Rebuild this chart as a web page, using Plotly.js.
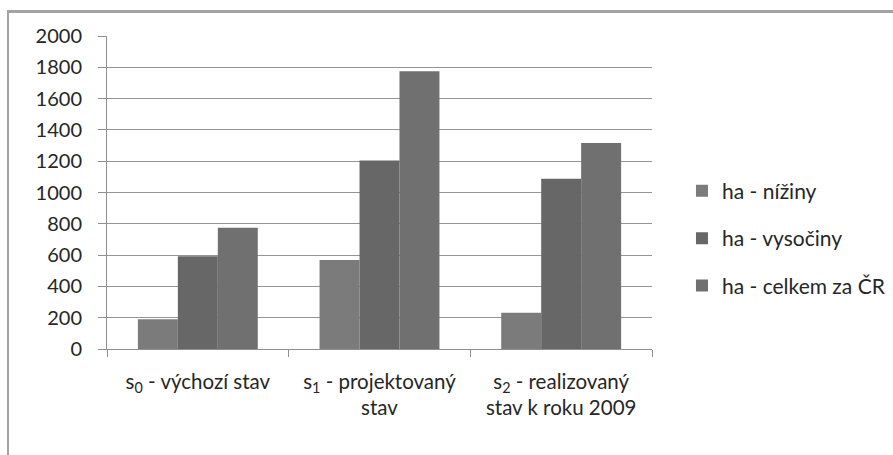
<!DOCTYPE html>
<html>
<head>
<meta charset="utf-8">
<script src="https://cdn.plot.ly/plotly-3.0.1.min.js"></script>
<style>
  html, body { margin: 0; padding: 0; background: #ffffff; overflow: hidden; }
  #wrap { position: relative; width: 893px; height: 455px; }
  #chart { position: absolute; left: 0; top: 0; width: 893px; height: 455px; }
  #frame {
    position: absolute; left: 7px; top: 10px; width: 920px; height: 480px;
    border-left: 2px solid #a3a3a3; border-top: 3px solid #a3a3a3;
    pointer-events: none;
  }
</style>
</head>
<body>
<div id="wrap">
  <div id="chart"></div>
  <div id="frame"></div>
</div>
<script>
// Categories (states) and areas in hectares
const categories = [
  "s<sub>0</sub> - výchozí stav",
  "s<sub>1</sub> - projektovaný<br>stav",
  "s<sub>2</sub> - realizovaný<br>stav k roku 2009"
];
const seriesNames = ["ha - nížiny", "ha - vysočiny", "ha - celkem za ČR"];
const nizinyValues = [190, 568, 232];
const vysocinyValues = [592, 1204, 1088];
const celkemValues = [774, 1774, 1316];
const yTickValues = [0, 200, 400, 600, 800, 1000, 1200, 1400, 1600, 1800, 2000];

const seriesColors = ["#7b7b7b", "#676767", "#707070"];
const FONT = "Lato, 'Open Sans', sans-serif";
const TEXT = "#262626";

const allValues = [nizinyValues, vysocinyValues, celkemValues];
const traces = allValues.map((vals, i) => ({
  type: "bar",
  name: seriesNames[i],
  x: categories,
  y: vals,
  legendgroup: "g" + i,
  marker: { color: seriesColors[i], line: { width: 0 } },
  hoverinfo: "x+y+name"
}));

const layout = {
  width: 893,
  height: 455,
  margin: { l: 107, r: 241, t: 36, b: 106, autoexpand: false },
  paper_bgcolor: "#ffffff",
  plot_bgcolor: "#ffffff",
  font: { family: FONT, size: 20, color: TEXT },
  barmode: "group",
  bargap: 0.34,
  bargroupgap: 0,
  showlegend: true,
  legend: {
    x: 1.055, xanchor: "left",
    y: 0.354, yanchor: "middle",
    traceorder: "grouped",
    tracegroupgap: 17,
    font: { family: FONT, size: 21, color: TEXT },
    itemwidth: 30,
    bgcolor: "rgba(0,0,0,0)"
  },
  xaxis: {
    type: "category",
    showgrid: false,
    showline: true,
    linecolor: "#8f8f8f",
    linewidth: 1,
    ticks: "outside",
    tickson: "boundaries",
    ticklen: 7,
    tickcolor: "#8f8f8f",
    ticklabelstandoff: 14,
    tickfont: { family: FONT, size: 20.5, color: TEXT },
    zeroline: false
  },
  yaxis: {
    range: [0, 2000],
    tickvals: yTickValues,
    ticktext: yTickValues.map(String),
    showgrid: true,
    gridcolor: "#959595",
    gridwidth: 1,
    showline: true,
    linecolor: "#8f8f8f",
    linewidth: 1,
    ticks: "outside",
    ticklen: 8,
    tickcolor: "#8f8f8f",
    ticklabelstandoff: 12,
    tickfont: { family: FONT, size: 20, color: TEXT },
    zeroline: false
  }
};

Plotly.newPlot("chart", traces, layout, { displayModeBar: false, staticPlot: true });
</script>
</body>
</html>
